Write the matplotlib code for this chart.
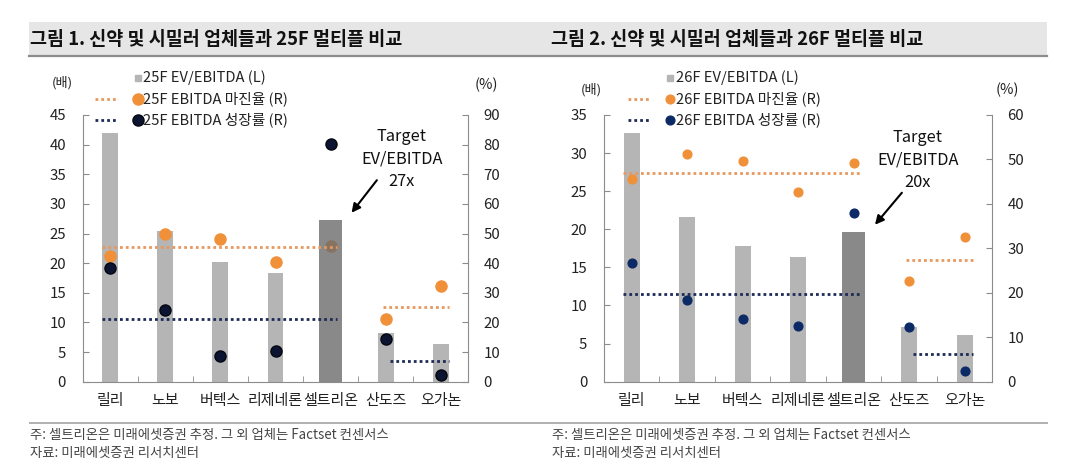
import matplotlib
matplotlib.use('Agg')
import matplotlib.pyplot as plt
from matplotlib.lines import Line2D
from matplotlib.patches import Rectangle
from matplotlib.ticker import MultipleLocator, FixedLocator

plt.rcParams['font.family'] = ['Noto Sans CJK KR', 'DejaVu Sans']

W, H = 1080, 476

companies = ['릴리', '노보', '버텍스', '리제네론', '셀트리온', '산도즈', '오가논']

# 그림 1 (25F)
ev_25 = [42.0, 25.5, 20.2, 18.4, 27.2, 8.2, 6.3]
margin_25 = [42.5, 49.8, 48.0, 40.5, 45.9, 21.3, 32.3]
growth_25 = [38.5, 24.1, 8.6, 10.5, 80.1, 14.3, 2.3]
margin_avg_25 = [45.4, 25.2]   # 신약 그룹 평균 / 시밀러 그룹 평균
growth_avg_25 = [21.1, 7.1]

# 그림 2 (26F)
ev_26 = [32.6, 21.6, 17.8, 16.3, 19.7, 7.2, 6.1]
margin_26 = [45.5, 51.2, 49.7, 42.6, 49.3, 22.7, 32.6]
growth_26 = [26.8, 18.4, 14.0, 12.6, 37.9, 12.2, 2.4]
margin_avg_26 = [47.0, 27.3]
growth_avg_26 = [19.7, 6.2]

BAR = '#b5b5b5'
BAR_DARK = '#6c6c6c'
ORANGE = '#f0913a'
ORANGE_LINE = '#e8985e'
NAVY_LINE = '#1d2a56'
AXIS = '#8c8c8c'


def fx(px):
    return px / W


def fy(py):
    return 1 - py / H


fig = plt.figure(figsize=(W / 100, H / 100), dpi=100)

# 제목 띠
fig.add_artist(Rectangle((fx(29), fy(55)), fx(1047) - fx(29), fy(22) - fy(55),
                         transform=fig.transFigure, facecolor='#e6e6e6', edgecolor='none'))
fig.add_artist(Line2D([fx(29), fx(1047)], [fy(55.5)] * 2, color='#8c8c8c', lw=1.6))
fig.add_artist(Line2D([fx(30), fx(1047)], [fy(423)] * 2, color='#b0b0b0', lw=1.4))


def panel(rect, ev, margin, growth, m_avg, g_avg, ymax_l, ymax_r, step_l, step_r,
          navy, dot_ms, navy_edge, year, target, title, x0, legend_x, note_x,
          arrow, text_xy, unit_y):
    ax = fig.add_axes(rect)
    ax2 = ax.twinx()
    x = list(range(len(companies)))

    others = [i for i in x if companies[i] != '셀트리온']
    ax.bar(others, [ev[i] for i in others], width=0.29, color=BAR, zorder=2)
    # 셀트리온 막대는 점 위에 반투명하게 겹쳐 그림
    ci = companies.index('셀트리온')
    ax2.bar([ci], [ev[ci]], width=0.42, color=BAR_DARK, alpha=0.8, zorder=3,
            transform=ax.transData)

    ax2.plot(x, margin, 'o', color=ORANGE, ms=dot_ms, mec=ORANGE, zorder=2)
    ax2.plot(x, growth, 'o', color=navy, ms=dot_ms, mec=navy_edge, zorder=4)

    ls = (0, (1, 1.1))
    ax2.plot([-0.15, 4.12], [m_avg[0]] * 2, color=ORANGE_LINE, lw=2, ls=ls, zorder=5)
    ax2.plot([4.95, 6.15], [m_avg[1]] * 2, color=ORANGE_LINE, lw=2, ls=ls, zorder=5)
    ax2.plot([-0.15, 4.12], [g_avg[0]] * 2, color=NAVY_LINE, lw=2, ls=ls, zorder=5)
    ax2.plot([5.07, 6.15], [g_avg[1]] * 2, color=NAVY_LINE, lw=2, ls=ls, zorder=5)

    ax.set_xlim(-0.5, len(companies) - 0.5)
    ax.set_ylim(0, ymax_l)
    ax2.set_ylim(0, ymax_r)
    ax.yaxis.set_major_locator(MultipleLocator(step_l))
    ax2.yaxis.set_major_locator(MultipleLocator(step_r))
    ax.set_xticks(x)
    ax.set_xticklabels(companies)
    ax.xaxis.set_minor_locator(FixedLocator([i + 0.5 for i in x[:-1]]))

    for a in (ax, ax2):
        for s in a.spines.values():
            s.set_color(AXIS)
        a.spines['top'].set_visible(False)
    ax.spines['right'].set_visible(False)
    ax2.spines['left'].set_visible(False)
    ax2.spines['bottom'].set_visible(False)

    ax.tick_params(axis='y', direction='in', length=4, color=AXIS, labelsize=10.8,
                   labelcolor='#222222', pad=12)
    ax2.tick_params(axis='y', direction='in', length=4, color=AXIS, labelsize=10.8,
                    labelcolor='#222222', pad=11)
    ax.tick_params(axis='x', which='major', length=0, labelsize=10.8,
                   labelcolor='#222222', pad=9)
    ax.tick_params(axis='x', which='minor', direction='in', length=4, color=AXIS)

    ax.annotate('', xy=arrow[1], xytext=arrow[0],
                arrowprops=dict(arrowstyle='-|>', color='black', lw=1.5,
                                mutation_scale=13, shrinkA=0, shrinkB=0))
    ax.text(text_xy[0], text_xy[1], 'Target\nEV/EBITDA\n' + target, ha='center',
            va='center', fontsize=11.8, linespacing=1.42, color='#111111', zorder=6)

    # 단위
    fig.text(fx(unit_y[0]), fy(unit_y[1]), '(배)', ha='center', va='center',
             fontsize=9.5, color='#222222')
    fig.text(fx(unit_y[2]), fy(unit_y[3]), '(%)', ha='center', va='center',
             fontsize=10.5, color='#222222')

    # 범례
    lx = legend_x
    rows = [78, 99, 120]
    fig.add_artist(Line2D([fx(lx[2])], [fy(rows[0])], marker='s', ms=4.5,
                          color=BAR, ls='none'))
    fig.add_artist(Line2D([fx(lx[0]), fx(lx[1])], [fy(rows[1])] * 2,
                          color=ORANGE_LINE, lw=2, ls=ls))
    fig.add_artist(Line2D([fx(lx[2])], [fy(rows[1])], marker='o', ms=dot_ms,
                          color=ORANGE, ls='none'))
    fig.add_artist(Line2D([fx(lx[0]), fx(lx[1])], [fy(rows[2])] * 2,
                          color=NAVY_LINE, lw=2, ls=ls))
    fig.add_artist(Line2D([fx(lx[2])], [fy(rows[2])], marker='o', ms=dot_ms,
                          color=navy, mec=navy_edge, ls='none'))
    labels = [f'{year} EV/EBITDA (L)', f'{year} EBITDA 마진율 (R)',
              f'{year} EBITDA 성장률 (R)']
    for r, lab in zip(rows, labels):
        fig.text(fx(lx[3]), fy(r), lab, ha='left', va='center', fontsize=10.6,
                 color='#222222')

    fig.text(fx(x0), fy(39.5), title, ha='left', va='center', fontsize=13.3,
             fontweight='bold', color='#111111')
    fig.text(fx(note_x), fy(435), '주: 셀트리온은 미래에셋증권 추정. 그 외 업체는 Factset 컨센서스',
             ha='left', va='center', fontsize=9.6, color='#444444')
    fig.text(fx(note_x), fy(453), '자료: 미래에셋증권 리서치센터',
             ha='left', va='center', fontsize=9.6, color='#444444')


panel([fx(82.7), fy(381.7), fx(468.3) - fx(82.7), fy(115) - fy(381.7)],
      ev_25, margin_25, growth_25, margin_avg_25, growth_avg_25,
      45, 90, 5, 10, '#0b1430', 8, '#05070f', '25F', '27x',
      '그림 1. 신약 및 시밀러 업체들과 25F 멀티플 비교', 30,
      (95, 118, 138, 143), 30,
      ((4.84, 34.0), (4.38, 28.5)), (5.29, 37.6), (62, 83, 486, 85))

panel([fx(604), fy(381.7), fx(992.3) - fx(604), fy(115) - fy(381.7)],
      ev_26, margin_26, growth_26, margin_avg_26, growth_avg_26,
      35, 60, 5, 10, '#0c2a66', 6.3, '#0c2a66', '26F', '20x',
      '그림 2. 신약 및 시밀러 업체들과 26F 멀티플 비교', 551,
      (628, 649, 670, 676), 552,
      ((4.87, 24.8), (4.385, 20.6)), (5.16, 29.1), (591, 90, 1007, 90))

fig.savefig('out.png', dpi=100)
